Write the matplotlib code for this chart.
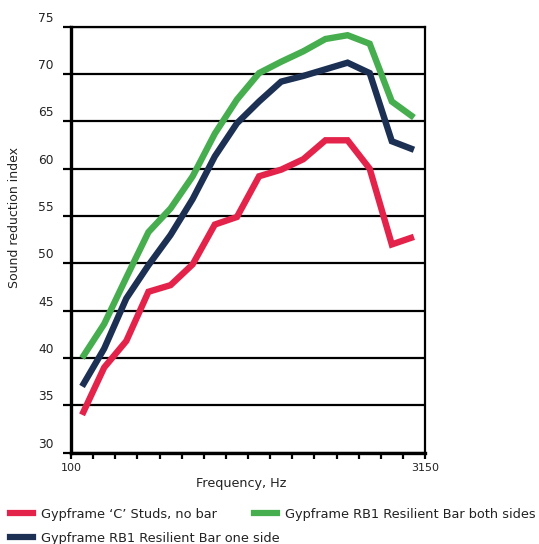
import matplotlib
matplotlib.use("Agg")
import matplotlib.pyplot as plt
from matplotlib.transforms import ScaledTranslation
from matplotlib.lines import Line2D
import numpy as np

# Data
frequencies = ["100", "125", "160", "200", "250", "315", "400", "500", "630",
               "800", "1000", "1250", "1600", "2000", "2500", "3150"]
series_names = ["Gypframe \u2018C\u2019 Studs, no bar",
                "Gypframe RB1 Resilient Bar one side",
                "Gypframe RB1 Resilient Bar both sides"]
no_bar = [34.0, 39.0, 41.8, 47.0, 47.7, 49.9, 54.1, 54.9, 59.2, 59.9, 61.0, 63.0, 63.0, 60.0, 52.0, 52.8]
one_side = [37.0, 41.0, 46.3, 49.8, 53.0, 56.8, 61.3, 64.8, 67.1, 69.2, 69.8, 70.5, 71.2, 70.1, 62.9, 62.0]
both_sides = [40.0, 43.6, 48.5, 53.3, 55.8, 59.2, 63.7, 67.3, 70.1, 71.3, 72.4, 73.7, 74.1, 73.2, 67.1, 65.4]
y_ticks = [30, 35, 40, 45, 50, 55, 60, 65, 70, 75]

colors = ["#E4234B", "#1C3054", "#46AE4E"]
text_color = "#222222"

plt.rcParams['font.family'] = ['DejaVu Sans']

fig = plt.figure(figsize=(5.39, 5.44), dpi=100)
ax = fig.add_axes([71/539, 1-452.7/544, (425-71)/539, (452.7-26.7)/544])

x = np.arange(len(frequencies)) + 0.5
for vals, c in zip([no_bar, one_side, both_sides], colors):
    ax.plot(x, vals, color=c, lw=4.6, solid_joinstyle='miter', solid_capstyle='butt', zorder=3)

ax.set_xlim(0, len(frequencies))
ax.set_ylim(30, 75)
ax.set_yticks(y_ticks)
ax.set_yticklabels([str(v) for v in y_ticks])
ax.set_xticks(np.arange(len(frequencies) + 1))
xl = [""] * (len(frequencies) + 1)
xl[0] = frequencies[0]
xl[-1] = frequencies[-1]
ax.set_xticklabels(xl)

ax.yaxis.grid(True, color="black", lw=1.6, zorder=1)
ax.set_axisbelow(True)
ax.tick_params(axis='y', direction='out', length=6, width=1.6, labelsize=8.8, pad=6.5, colors='black')
ax.tick_params(axis='x', direction='out', length=4.5, width=1.6, labelsize=8.0, pad=3, colors='black')

for lab in ax.get_yticklabels():
    lab.set_transform(lab.get_transform() + ScaledTranslation(0, 0.1, fig.dpi_scale_trans))
    lab.set_color(text_color)
for lab in ax.get_xticklabels():
    lab.set_color(text_color)

ax.spines['left'].set_linewidth(2.4)
ax.spines['bottom'].set_linewidth(2.4)
ax.spines['right'].set_linewidth(1.6)
ax.spines['top'].set_linewidth(1.6)

ax.set_ylabel("Sound reduction index", fontsize=9.0, color=text_color)
ax.yaxis.set_label_coords((14 - 71) / 354, (452.7 - 217) / 426)
ax.yaxis.label.set_va('center')
ax.set_xlabel("Frequency, Hz", fontsize=9.2, color=text_color)
ax.xaxis.set_label_coords((241.5 - 71) / 354, (452.7 - 477) / 426)

h = [Line2D([], [], color=c, lw=4.5) for c in colors]
leg_kw = dict(frameon=False, fontsize=9.3, handlelength=1.8, handletextpad=0.6,
              borderaxespad=0, borderpad=0, loc='upper left')
leg1 = fig.legend([h[0], h[1]], [series_names[0], series_names[1]],
                  bbox_to_anchor=(10/539, 1 - 508/544), labelspacing=0.85, **leg_kw)
leg2 = fig.legend([h[2]], [series_names[2]],
                  bbox_to_anchor=(254/539, 1 - 508/544), **leg_kw)
for lg in (leg1, leg2):
    for t in lg.get_texts():
        t.set_color(text_color)

fig.savefig("out.png", dpi=100)
